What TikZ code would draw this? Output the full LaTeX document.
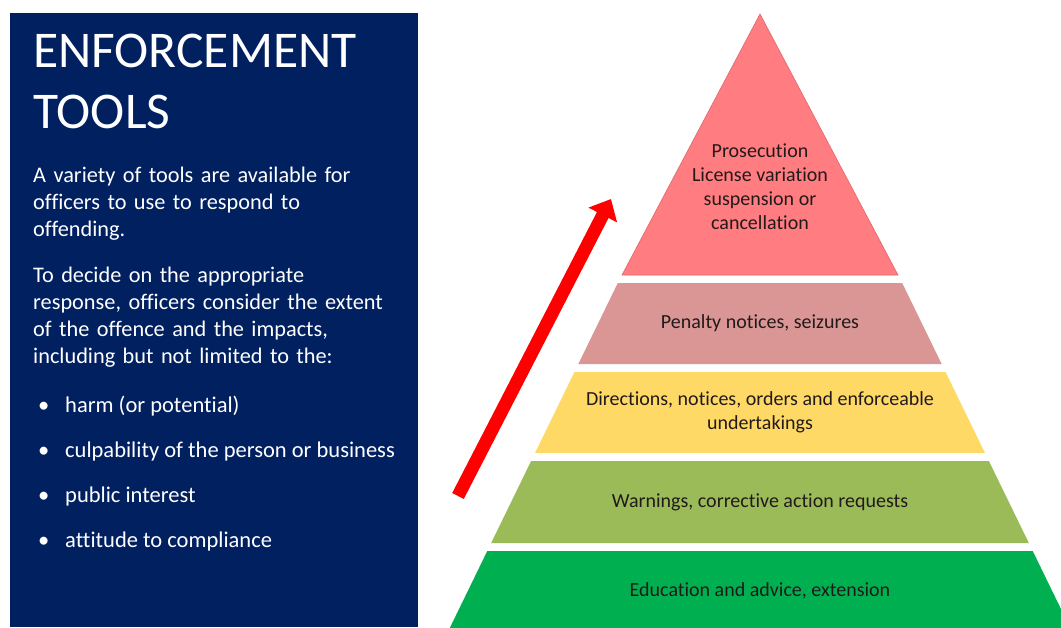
\documentclass[tikz,border=0pt]{standalone}
\usepackage{fontspec}
\setmainfont{Carlito}[Ligatures=NoCommon]
\usepackage{tikz}
\usetikzlibrary{arrows.meta}
\definecolor{navy}{RGB}{0,32,96}
\definecolor{toplayer}{HTML}{FF7C80}
\definecolor{toplayerline}{HTML}{E0676B}
\definecolor{penaltypink}{HTML}{D99694}
\definecolor{directgold}{HTML}{FFD966}
\definecolor{warnolive}{HTML}{9BBB59}
\definecolor{educgreen}{HTML}{00B050}
\definecolor{arrowred}{HTML}{FF0000}
\definecolor{layerink}{HTML}{221A1A}

\begin{document}
\begin{tikzpicture}[
  x=1pt, y=-1pt,
  heading/.style={anchor=base west, inner sep=0pt, text=white, text width=380pt, align=left, font=\fontsize{51.5}{61}\selectfont},
  bodytext/.style={anchor=base west, inner sep=0pt, text=white, text width=385pt, align=left, font=\fontsize{22.3}{27}\selectfont},
  bullettext/.style={anchor=base west, inner sep=0pt, text=white, font=\fontsize{22.5}{27}\selectfont},
  layertext/.style={inner sep=0pt, text=layerink, align=center, font=\fontsize{20}{24}\selectfont},
  uparrow/.style={-{Triangle[width=31pt,length=18pt]}, line width=13pt, draw=arrowred}
]
  \useasboundingbox[fill=white] (0,0) rectangle (1061,627);

  % left panel
  \fill[navy] (10,13) rectangle (418,627);
  \node[heading]  (title)  at (33,67)  {ENFORCEMENT\\TOOLS};
  \node[bodytext] (intro)  at (33,182) {A variety of tools are available for\\officers to use to respond to\\offending.};
  \node[bodytext] (decide) at (33,282) {To decide on the appropriate\\response, officers consider the extent\\of the offence and the impacts,\\including but not limited to the:};
  \foreach \y/\txt [count=\i] in {412/{harm (or potential)}, 457/{culpability of the person or business}, 502/{public interest}, 547/{attitude to compliance}} {
    \node[bullettext] (dot\i)  at (38,\y) {\textbullet};
    \node[bullettext] (item\i) at (65,\y) {\txt};
  }

  % pyramid
  \filldraw[fill=toplayer, draw=toplayerline, line width=0.6pt] (760,14) -- (898,275) -- (622,275) -- cycle;
  \foreach \yt/\yb/\col in {283/364/penaltypink, 372/453/directgold, 461/543/warnolive, 551/640/educgreen}
    \fill[\col] ({760-0.487*(\yt+9)},\yt) -- ({760+0.487*(\yt+9)},\yt) -- ({760+0.487*(\yb+9)},\yb) -- ({760-0.487*(\yb+9)},\yb) -- cycle;

  \node[layertext] (prosecution) at (760,187) {Prosecution\\License variation\\suspension or\\cancellation};
  \node[layertext] (penalty)     at (760,323) {Penalty notices, seizures};
  \node[layertext] (directions)  at (760,412) {Directions, notices, orders and enforceable\\undertakings};
  \node[layertext] (warnings)    at (760,502) {Warnings, corrective action requests};
  \node[layertext] (education)   at (760,591) {Education and advice, extension};

  % escalation arrow
  \coordinate (arrowtail) at (458,496);
  \coordinate (arrowtip)  at (611,199);
  \draw[uparrow] (arrowtail) -- (arrowtip);
\end{tikzpicture}
\end{document}
